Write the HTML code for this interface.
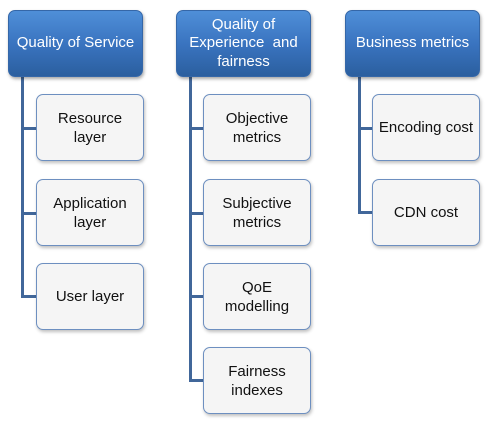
<!DOCTYPE html>
<html><head><style>
body{margin:0;width:494px;height:426px;background:#fff;position:relative;overflow:hidden;font-family:"Liberation Sans",sans-serif}
.h{position:absolute;width:135px;height:67px;border-radius:7px;background:linear-gradient(#4f8fd8,#3a74c0 50%,#2b5f9f);box-shadow:1px 2px 3px rgba(0,0,0,.35);color:#fff;font-size:15px;line-height:18.5px;display:flex;align-items:center;justify-content:center;text-align:center;box-sizing:border-box;border:1px solid #3567a8;white-space:nowrap}
.c{position:absolute;width:108px;height:67px;border-radius:7px;background:#f5f5f5;border:1px solid #6d8fc0;box-sizing:border-box;box-shadow:1px 2px 3px rgba(0,0,0,.25);color:#111;font-size:15px;line-height:19px;display:flex;align-items:center;justify-content:center;text-align:center;white-space:nowrap}
.v,.t{position:absolute;background:#41679a}
</style></head><body>
<div class="v" style="left:21px;top:77px;width:3px;height:220px"></div>
<div class="t" style="left:21px;top:127px;width:15px;height:3px"></div>
<div class="t" style="left:21px;top:212px;width:15px;height:3px"></div>
<div class="t" style="left:21px;top:295px;width:15px;height:3px"></div>
<div class="v" style="left:189px;top:77px;width:3px;height:305px"></div>
<div class="t" style="left:189px;top:127px;width:15px;height:3px"></div>
<div class="t" style="left:189px;top:212px;width:15px;height:3px"></div>
<div class="t" style="left:189px;top:295px;width:15px;height:3px"></div>
<div class="t" style="left:189px;top:379px;width:15px;height:3px"></div>
<div class="v" style="left:358px;top:77px;width:3px;height:137px"></div>
<div class="t" style="left:358px;top:127px;width:15px;height:3px"></div>
<div class="t" style="left:358px;top:211px;width:15px;height:3px"></div>

<div class="h" style="left:8px;top:10px">Quality of Service</div>
<div class="h" style="left:176px;top:10px">Quality of<br>Experience &nbsp;and<br>fairness</div>
<div class="h" style="left:345px;top:10px">Business metrics</div>

<div class="c" style="left:36px;top:94px">Resource<br>layer</div>
<div class="c" style="left:36px;top:179px">Application<br>layer</div>
<div class="c" style="left:36px;top:263px">User layer</div>

<div class="c" style="left:203px;top:94px">Objective<br>metrics</div>
<div class="c" style="left:203px;top:179px">Subjective<br>metrics</div>
<div class="c" style="left:203px;top:263px">QoE<br>modelling</div>
<div class="c" style="left:203px;top:347px">Fairness<br>indexes</div>

<div class="c" style="left:372px;top:94px">Encoding cost</div>
<div class="c" style="left:372px;top:179px">CDN cost</div>
</body></html>
